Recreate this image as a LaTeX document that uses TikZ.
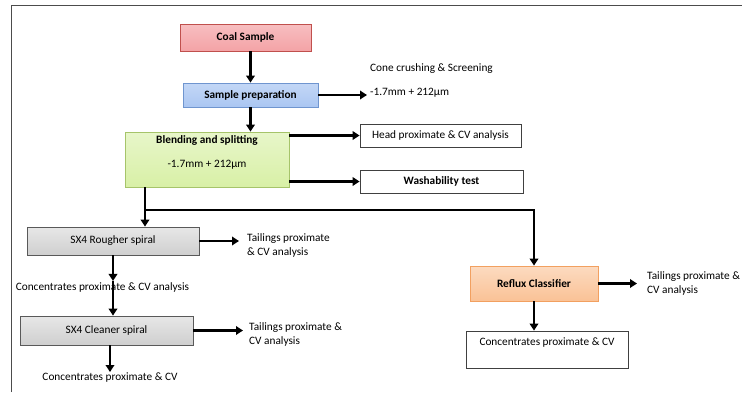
\documentclass[tikz,border=0pt]{standalone}
\usepackage{fontspec}
\setmainfont{Carlito}
\usetikzlibrary{arrows.meta,shadows}

\definecolor{coalfill}{HTML}{F4A3A6}
\definecolor{coalline}{HTML}{C0504D}
\definecolor{prepfill}{HTML}{AAC6F2}
\definecolor{prepline}{HTML}{6F95CF}
\definecolor{blendfill}{HTML}{D8F0A6}
\definecolor{blendline}{HTML}{A6C46A}
\definecolor{spiralfill}{HTML}{CFCFCF}
\definecolor{spiralline}{HTML}{595959}
\definecolor{refluxfill}{HTML}{FAC296}
\definecolor{refluxline}{HTML}{F2A060}

\begin{document}
\begin{tikzpicture}[x=1pt,y=-1pt,font=\fontsize{11.3}{14}\selectfont,
    box/.style={draw,line width=0.8pt,align=center,inner sep=2pt,
      drop shadow={opacity=0.25,shadow xshift=1pt,shadow yshift=-1.2pt}},
    plainbox/.style={draw=black!75,line width=0.8pt,fill=white,align=center,inner sep=2pt,
      drop shadow={opacity=0.25,shadow xshift=1pt,shadow yshift=-1.2pt}},
    bold/.style={font=\bfseries\fontsize{11.3}{14}\selectfont},
    note/.style={align=left,inner sep=1pt},
    arr/.style={line width=2.2pt,-{Triangle[length=7pt,width=8.5pt]}},
    flow/.style={line width=2.2pt}]
    \useasboundingbox (0,0) rectangle (742,392);
    % frame
    \draw[black!70,line width=0.8pt] (11,392) -- (11,5) -- (742,5);

    % main chain
    \node[box,bold,draw=coalline,top color=coalfill!70,bottom color=coalfill,
      minimum width=131pt,minimum height=27pt] (coal) at (245.5,37.5) {Coal Sample};
    \node[box,bold,draw=prepline,top color=prepfill!70,bottom color=prepfill,
      minimum width=135pt,minimum height=24pt] (prep) at (250.5,95) {Sample preparation};
    \node[box,draw=blendline,top color=blendfill!60,bottom color=blendfill,
      minimum width=164pt,minimum height=55pt] (blend) at (207,159.5)
      {\textbf{Blending and splitting}\\[10pt]-1.7mm + 212µm\\[2pt]};
    \node[plainbox,minimum width=161pt,minimum height=23pt] (head) at (440.5,135.5) {Head proximate \& CV analysis};
    \node[plainbox,bold,minimum width=163pt,minimum height=23pt] (wash) at (441.5,181.5) {Washability test};
    \node[note,anchor=west] (cone) at (369,69) {Cone crushing \& Screening};
    \node[note,anchor=west] (size) at (369,93) {-1.7mm + 212µm};

    % spirals
    \node[box,draw=spiralline,top color=spiralfill!50,bottom color=spiralfill,
      minimum width=172pt,minimum height=28pt] (rough) at (113,241) {SX4 Rougher spiral};
    \node[note,anchor=west] (tailR) at (246,245) {Tailings proximate\\\& CV analysis};
    \node[note] (concR) at (102.5,287) {Concentrates proximate \& CV analysis};
    \node[box,draw=spiralline,top color=spiralfill!50,bottom color=spiralfill,
      minimum width=173pt,minimum height=29pt] (clean) at (106.5,330.5) {SX4 Cleaner spiral};
    \node[note,anchor=west] (tailC) at (248,334) {Tailings proximate \&\\CV analysis};
    \node[note] (concC) at (110,378) {Concentrates proximate \& CV};

    % reflux classifier
    \node[box,bold,draw=refluxline,top color=refluxfill!60,bottom color=refluxfill,
      minimum width=128pt,minimum height=35pt] (reflux) at (534,283.5) {Reflux Classifier};
    \node[note,anchor=west] (tailX) at (646,283.5) {Tailings proximate \&\\CV analysis};
    \node[plainbox,minimum width=162pt,minimum height=37pt] (concX) at (547,349.5) {Concentrates proximate \& CV\\[2pt]};

    \coordinate (split) at (145,210);

    % connectors
    \draw[arr] (prep.north |- coal.south) -- (prep.north);
    \draw[arr] (prep.south) -- (prep.south |- blend.north);
    \draw[arr,shorten >=2pt] (prep.east) -- (prep.east -| size.west);
    \draw[arr] (blend.east |- head) -- (head.west);
    \draw[arr] (blend.east |- wash) -- (wash.west);
    \draw[flow] (blend.south -| split) -- (split);
    \draw[arr] (split) -- (split |- rough.north);
    \draw[arr] (split) -| (reflux.north);
    \draw[arr,shorten >=7pt] (rough.east) -- (rough.east -| tailR.west);
    \draw[arr] (rough.south) -- (rough.south |- concR.north);
    \draw[arr] (rough.south |- concR.north) -- (rough.south |- clean.north);
    \draw[arr,shorten >=5pt] (clean.east) -- (clean.east -| tailC.west);
    \draw[arr] (clean.south -| concC.north) -- (concC.north);
    \draw[arr,shorten >=9pt] (reflux.east) -- (reflux.east -| tailX.west);
    \draw[arr] (reflux.south) -- (concX.north -| reflux.south);
\end{tikzpicture}
\end{document}
